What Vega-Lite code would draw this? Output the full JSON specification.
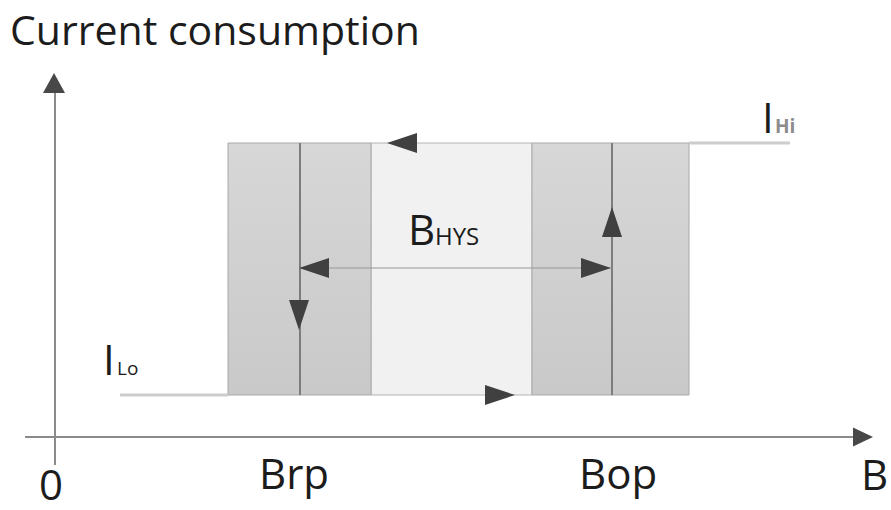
{
  "$schema": "https://vega.github.io/schema/vega-lite/v6.json",
  "width": 891,
  "height": 510,
  "autosize": "none",
  "padding": 0,
  "background": "white",
  "config": {"view": {"stroke": null}},
  "datasets": {
    "bands": [
      {"zone": "release outer", "x": 228, "x2": 300, "y": 143, "y2": 395, "kind": "switch"},
      {"zone": "release inner", "x": 300, "x2": 371, "y": 143, "y2": 395, "kind": "switch"},
      {"zone": "hysteresis", "x": 371, "x2": 532, "y": 143, "y2": 395, "kind": "gap"},
      {"zone": "operate inner", "x": 532, "x2": 612, "y": 143, "y2": 395, "kind": "switch"},
      {"zone": "operate outer", "x": 612, "x2": 689, "y": 143, "y2": 395, "kind": "switch"}
    ],
    "segments": [
      {"name": "current axis", "x": 55, "y": 88, "x2": 55, "y2": 465, "kind": "axis"},
      {"name": "field axis", "x": 25, "y": 437, "x2": 855, "y2": 437, "kind": "axis"},
      {"name": "I Hi level", "x": 689, "y": 143, "x2": 790, "y2": 143, "kind": "level"},
      {"name": "I Lo level", "x": 120, "y": 395, "x2": 228, "y2": 395, "kind": "level"},
      {"name": "Brp switch", "x": 300, "y": 143, "x2": 300, "y2": 395, "kind": "switch"},
      {"name": "Bop switch", "x": 612, "y": 143, "x2": 612, "y2": 395, "kind": "switch"},
      {"name": "B hys span", "x": 300, "y": 268, "x2": 612, "y2": 268, "kind": "span"}
    ],
    "arrows": [
      {"x": 402, "y": 143, "dir": "left"},
      {"x": 299, "y": 315, "dir": "down"},
      {"x": 612, "y": 222, "dir": "up"},
      {"x": 314, "y": 268, "dir": "left"},
      {"x": 596, "y": 268, "dir": "right"},
      {"x": 500, "y": 395, "dir": "right"},
      {"x": 863, "y": 437, "dir": "axisright"},
      {"x": 54, "y": 83, "dir": "axisup"}
    ],
    "labels": [
      {"text": "Current consumption", "x": 10, "y": 45, "role": "title"},
      {"text": "I", "x": 103, "y": 375, "role": "main"},
      {"text": "Lo", "x": 117, "y": 375, "role": "sub"},
      {"text": "I", "x": 762, "y": 133, "role": "main"},
      {"text": "Hi", "x": 775, "y": 133, "role": "subgray"},
      {"text": "B", "x": 408, "y": 245, "role": "main"},
      {"text": "HYS", "x": 435, "y": 245, "role": "subhys"},
      {"text": "Brp", "x": 259, "y": 489, "role": "main"},
      {"text": "Bop", "x": 579, "y": 489, "role": "main"},
      {"text": "0", "x": 39, "y": 500, "role": "main"},
      {"text": "B", "x": 861, "y": 490, "role": "main"}
    ]
  },
  "encoding": {
    "x": {"field": "x", "type": "quantitative", "scale": {"domain": [0, 891], "nice": false, "zero": false}, "axis": null},
    "y": {"field": "y", "type": "quantitative", "scale": {"domain": [510, 0], "nice": false, "zero": false}, "axis": null}
  },
  "layer": [
    {
      "data": {"name": "bands"},
      "transform": [{"filter": "datum.kind === 'gap'"}],
      "mark": {"type": "rect", "fill": "#f1f1f1", "stroke": "#b4b4b4", "strokeWidth": 1},
      "encoding": {"x2": {"field": "x2"}, "y2": {"field": "y2"}}
    },
    {
      "data": {"name": "bands"},
      "transform": [{"filter": "datum.kind === 'switch'"}],
      "mark": {"type": "rect", "stroke": "#a8a8a8", "strokeWidth": 1,
        "fill": {"gradient": "linear", "x1": 0, "y1": 0, "x2": 0, "y2": 1,
          "stops": [{"offset": 0, "color": "#d7d7d7"}, {"offset": 1, "color": "#c9c9c9"}]}},
      "encoding": {"x2": {"field": "x2"}, "y2": {"field": "y2"}}
    },
    {
      "data": {"name": "segments"},
      "transform": [{"filter": "datum.kind === 'level'"}],
      "mark": {"type": "rule", "color": "#cdcdcd", "strokeWidth": 3},
      "encoding": {"x2": {"field": "x2"}, "y2": {"field": "y2"}}
    },
    {
      "data": {"name": "segments"},
      "transform": [{"filter": "datum.kind === 'axis'"}],
      "mark": {"type": "rule", "color": "#8a8a8a", "strokeWidth": 2},
      "encoding": {"x2": {"field": "x2"}, "y2": {"field": "y2"}}
    },
    {
      "data": {"name": "segments"},
      "transform": [{"filter": "datum.kind === 'switch'"}],
      "mark": {"type": "rule", "color": "#6e6e6e", "strokeWidth": 1.6},
      "encoding": {"x2": {"field": "x2"}, "y2": {"field": "y2"}}
    },
    {
      "data": {"name": "segments"},
      "transform": [{"filter": "datum.kind === 'span'"}],
      "mark": {"type": "rule", "color": "#979797", "strokeWidth": 1.2},
      "encoding": {"x2": {"field": "x2"}, "y2": {"field": "y2"}}
    },
    {
      "data": {"name": "arrows"},
      "transform": [{"filter": "datum.dir === 'left'"}],
      "mark": {"type": "point", "filled": true, "color": "#404040", "opacity": 1, "size": 900, "shape": "M-1,0L1,-0.667L1,0.667Z"}
    },
    {
      "data": {"name": "arrows"},
      "transform": [{"filter": "datum.dir === 'right'"}],
      "mark": {"type": "point", "filled": true, "color": "#404040", "opacity": 1, "size": 900, "shape": "M1,0L-1,-0.667L-1,0.667Z"}
    },
    {
      "data": {"name": "arrows"},
      "transform": [{"filter": "datum.dir === 'up'"}],
      "mark": {"type": "point", "filled": true, "color": "#404040", "opacity": 1, "size": 900, "shape": "M0,-1L0.667,1L-0.667,1Z"}
    },
    {
      "data": {"name": "arrows"},
      "transform": [{"filter": "datum.dir === 'down'"}],
      "mark": {"type": "point", "filled": true, "color": "#404040", "opacity": 1, "size": 900, "shape": "M0,1L-0.667,-1L0.667,-1Z"}
    },
    {
      "data": {"name": "arrows"},
      "transform": [{"filter": "datum.dir === 'axisup'"}],
      "mark": {"type": "point", "filled": true, "color": "#484848", "opacity": 1, "size": 484, "shape": "M0,-0.91L1,0.91L-1,0.91Z"}
    },
    {
      "data": {"name": "arrows"},
      "transform": [{"filter": "datum.dir === 'axisright'"}],
      "mark": {"type": "point", "filled": true, "color": "#484848", "opacity": 1, "size": 400, "shape": "M1,0L-1,-0.95L-1,0.95Z"}
    },
    {
      "data": {"name": "labels"},
      "transform": [{"filter": "datum.role === 'title'"}],
      "mark": {"type": "text", "align": "left", "baseline": "alphabetic", "font": "Open Sans", "fontSize": 41, "color": "#1c1c1c"},
      "encoding": {"text": {"field": "text"}}
    },
    {
      "data": {"name": "labels"},
      "transform": [{"filter": "datum.role === 'main'"}],
      "mark": {"type": "text", "align": "left", "baseline": "alphabetic", "font": "Open Sans", "fontSize": 42, "color": "#1c1c1c"},
      "encoding": {"text": {"field": "text"}}
    },
    {
      "data": {"name": "labels"},
      "transform": [{"filter": "datum.role === 'sub'"}],
      "mark": {"type": "text", "align": "left", "baseline": "alphabetic", "font": "Open Sans", "fontSize": 19, "color": "#1c1c1c"},
      "encoding": {"text": {"field": "text"}}
    },
    {
      "data": {"name": "labels"},
      "transform": [{"filter": "datum.role === 'subgray'"}],
      "mark": {"type": "text", "align": "left", "baseline": "alphabetic", "font": "Open Sans", "fontSize": 19, "fontWeight": "bold", "color": "#8c8c8c"},
      "encoding": {"text": {"field": "text"}}
    },
    {
      "data": {"name": "labels"},
      "transform": [{"filter": "datum.role === 'subhys'"}],
      "mark": {"type": "text", "align": "left", "baseline": "alphabetic", "font": "Open Sans", "fontSize": 24, "color": "#1c1c1c"},
      "encoding": {"text": {"field": "text"}}
    }
  ]
}
